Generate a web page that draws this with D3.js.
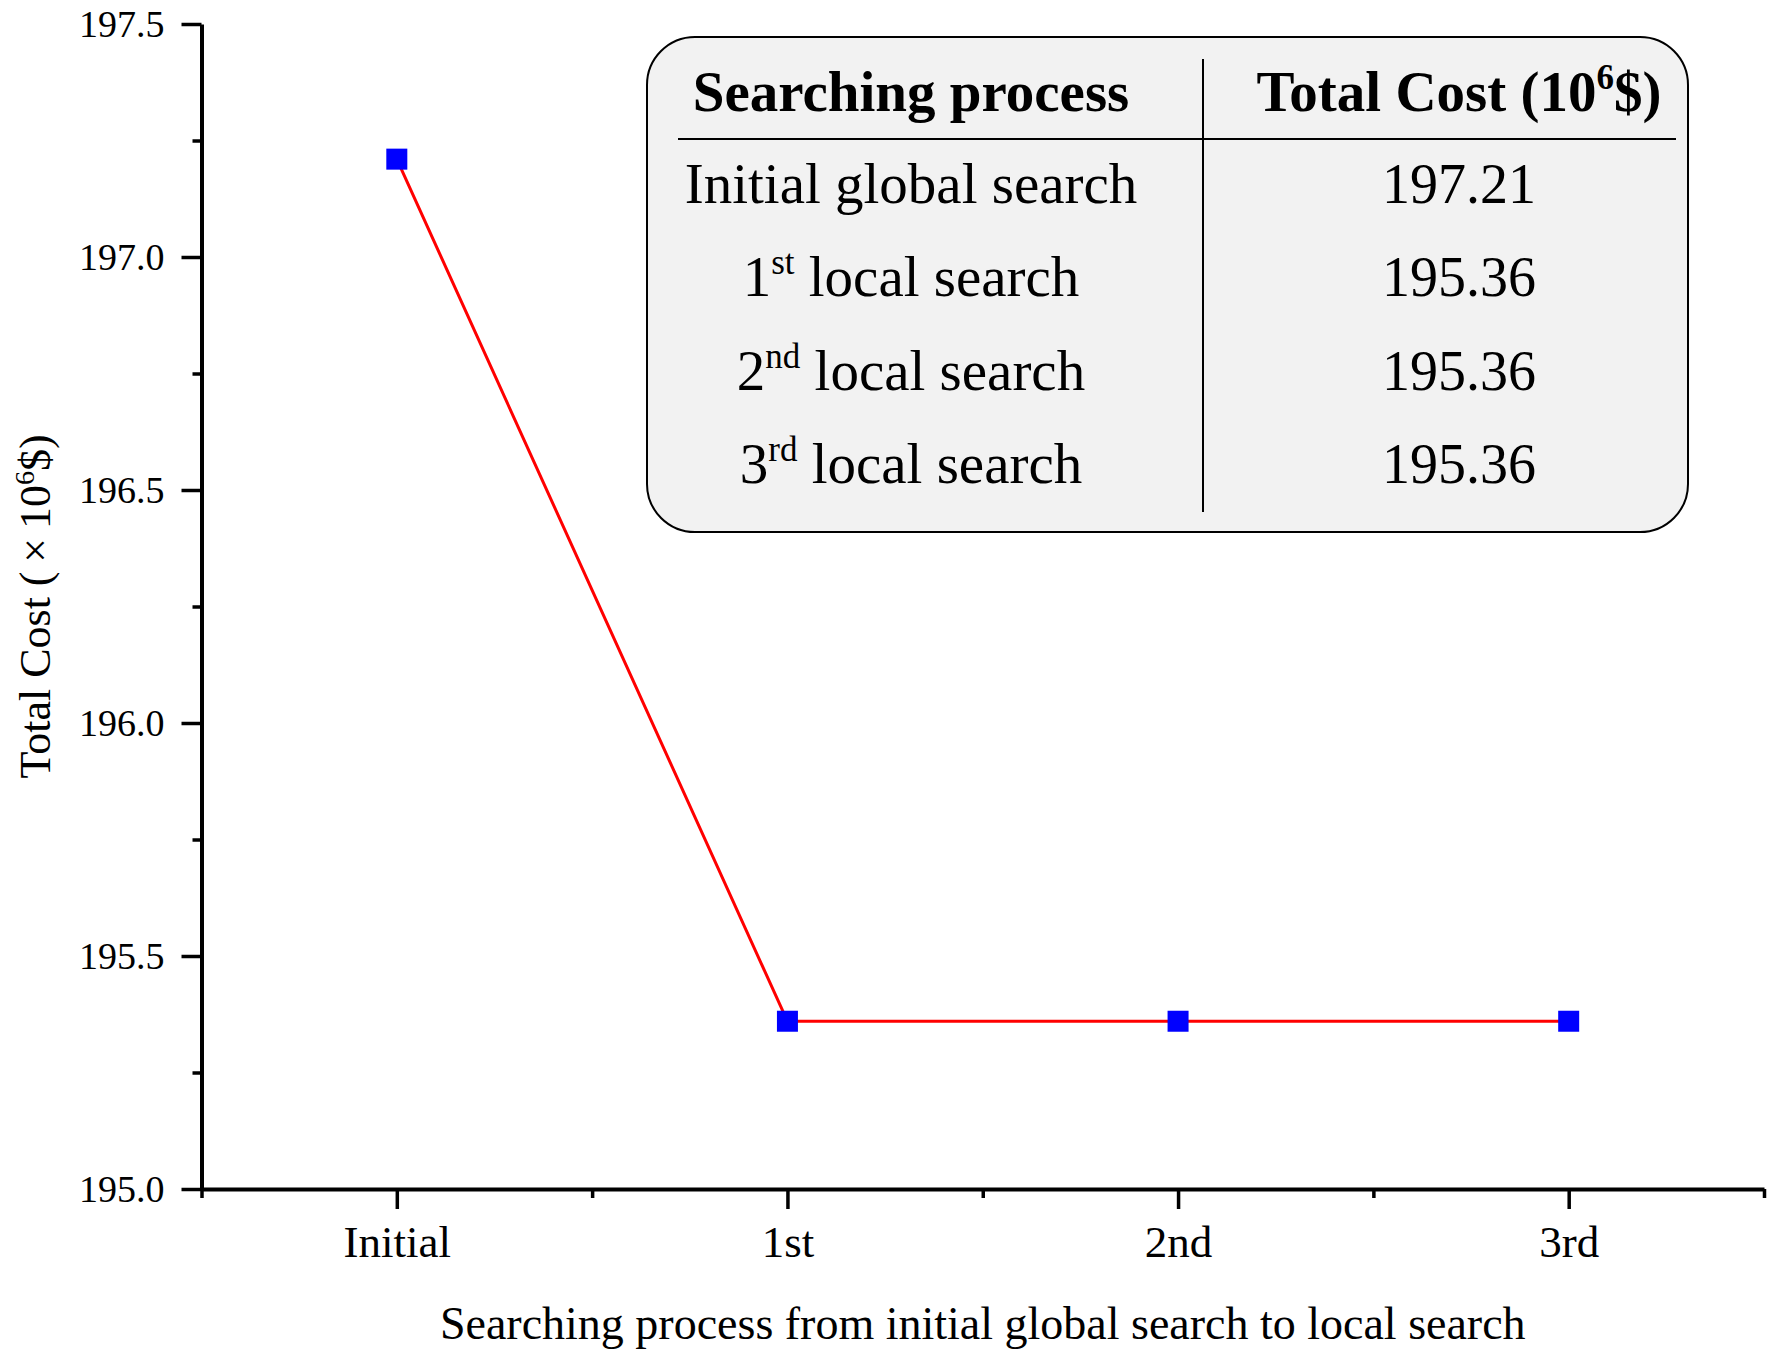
<!DOCTYPE html>
<html>
<head>
<meta charset="utf-8">
<script src="https://cdn.jsdelivr.net/npm/d3@7"></script>
<style>
  body { margin: 0; background: #fff; }
  svg text { font-family: "Liberation Serif", "Times New Roman", serif; fill: #000; }
</style>
</head>
<body>
<script>
// Total cost along the searching process (global search, then local searches)
var stages = ["Initial", "1st", "2nd", "3rd"];
var costs = [197.21, 195.36, 195.36, 195.36];
var yTicks = [195.0, 195.5, 196.0, 196.5, 197.0, 197.5];
var yMinor = [195.25, 195.75, 196.25, 196.75, 197.25];
var xMinor = [-0.5, 0.5, 1.5, 2.5, 3.5];

// table in the inset, "|" marks the superscript part
var tableHeader = ["Searching process", "Total Cost (10|6|$)"];
var tableNames = ["Initial global search", "1|st| local search", "2|nd| local search", "3|rd| local search"];

window.onload = function()
{
  var W = 1784, H = 1365;
  var svg = d3.select("body").append("svg")
      .attr("width", W)
      .attr("height", H);

  var x = d3.scaleLinear()
      .domain([-0.5, 3.5])
      .range([201.5, 1764]);

  var y = d3.scaleLinear()
      .domain([195.0, 197.5])
      .range([1189, 24]);

  // y axis, major ticks
  var yAxis = svg.append("g")
      .attr("transform", "translate(" + x(-0.5) + ",0)")
      .call(d3.axisLeft(y)
        .tickValues(yTicks)
        .tickSize(20)
        .tickSizeOuter(0)
        .tickPadding(17)
        .tickFormat(d3.format(".1f")));
  yAxis.attr("font-family", null);
  yAxis.select(".domain").attr("stroke-width", 4);
  yAxis.selectAll(".tick line").attr("stroke-width", 3.5);
  yAxis.selectAll(".tick text").style("font-size", "38px");

  // y axis, minor ticks
  var yAxisMinor = svg.append("g")
      .attr("transform", "translate(" + x(-0.5) + ",0)")
      .call(d3.axisLeft(y).tickValues(yMinor).tickSize(9).tickSizeOuter(0).tickFormat(""));
  yAxisMinor.select(".domain").remove();
  yAxisMinor.selectAll(".tick line").attr("stroke-width", 3.5);

  // x axis, major ticks
  var xAxis = svg.append("g")
      .attr("transform", "translate(0," + y(195.0) + ")")
      .call(d3.axisBottom(x)
        .tickValues([0, 1, 2, 3])
        .tickSize(20)
        .tickSizeOuter(0)
        .tickPadding(16)
        .tickFormat(function(d) { return stages[d]; }));
  xAxis.attr("font-family", null);
  xAxis.select(".domain").attr("stroke-width", 4);
  xAxis.selectAll(".tick line").attr("stroke-width", 3.5);
  xAxis.selectAll(".tick text").style("font-size", "45px");

  // x axis, minor ticks
  var xAxisMinor = svg.append("g")
      .attr("transform", "translate(0," + y(195.0) + ")")
      .call(d3.axisBottom(x).tickValues(xMinor).tickSize(9).tickSizeOuter(0).tickFormat(""));
  xAxisMinor.select(".domain").remove();
  xAxisMinor.selectAll(".tick line").attr("stroke-width", 3.5);

  // axis titles
  svg.append("text")
      .attr("x", (x(-0.5) + x(3.5)) / 2)
      .attr("y", 1339)
      .attr("text-anchor", "middle")
      .style("font-size", "46px")
      .text("Searching process from initial global search to local search");

  var yTitle = svg.append("text")
      .attr("transform", "rotate(-90)")
      .attr("x", -(y(195.0) + y(197.5)) / 2)
      .attr("y", 50)
      .attr("text-anchor", "middle")
      .style("font-size", "44px");
  yTitle.append("tspan").text("Total Cost (\u2009\u00d7\u200910");
  yTitle.append("tspan").attr("dy", -16).style("font-size", "28px").text("6");
  yTitle.append("tspan").attr("dy", 16).text("$)");

  // line and markers
  var pts = costs.map(function(c, i) { return [i, c]; });
  var line = d3.line()
      .x(function(d) { return x(d[0]); })
      .y(function(d) { return y(d[1]); });

  svg.append("path")
      .datum(pts)
      .attr("d", line)
      .attr("fill", "none")
      .attr("stroke", "#ff0000")
      .attr("stroke-width", 3);

  svg.selectAll(".dot")
      .data(pts)
    .enter().append("rect")
      .attr("class", "dot")
      .attr("x", function(d) { return x(d[0]) - 10.5; })
      .attr("y", function(d) { return y(d[1]) - 10.5; })
      .attr("width", 21)
      .attr("height", 21)
      .attr("fill", "#0000ff");

  // inset table
  var box = {left: 647, top: 37, right: 1688, bottom: 532};
  var colL = 911, colR = 1459, divX = 1203;
  var rowY = d3.scaleLinear().domain([0, 3]).range([203, 483]);

  var tbl = svg.append("g").attr("class", "table");
  tbl.append("rect")
      .attr("x", box.left)
      .attr("y", box.top)
      .attr("width", box.right - box.left)
      .attr("height", box.bottom - box.top)
      .attr("rx", 48)
      .attr("ry", 48)
      .attr("fill", "#f2f2f2")
      .attr("stroke", "#000")
      .attr("stroke-width", 2);

  tbl.append("line")
      .attr("x1", 678).attr("x2", 1676)
      .attr("y1", 139).attr("y2", 139)
      .attr("stroke", "#000").attr("stroke-width", 2);

  tbl.append("line")
      .attr("x1", divX).attr("x2", divX)
      .attr("y1", 59).attr("y2", 512)
      .attr("stroke", "#000").attr("stroke-width", 2);

  function writeCell(g, str, cx, cy, size, bold)
  {
    var parts = str.split("|");
    var t = g.append("text")
        .attr("x", cx)
        .attr("y", cy)
        .attr("text-anchor", "middle")
        .style("font-size", size + "px")
        .style("font-weight", bold ? "bold" : "normal");
    var shift = Math.round(size * 0.38);
    parts.forEach(function(p, i)
    {
      if (p === "") return;
      if (i % 2 === 1)
      {
        t.append("tspan").attr("dy", -shift).style("font-size", Math.round(size * 0.62) + "px").text(p);
      }
      else
      {
        var ts = t.append("tspan").text(p);
        if (i > 0) ts.attr("dy", shift);
      }
    });
  }

  writeCell(tbl, tableHeader[0], colL, 111, 57, true);
  writeCell(tbl, tableHeader[1], colR, 111, 57, true);

  tableNames.forEach(function(name, i)
  {
    writeCell(tbl, name, colL, rowY(i), 57, false);
    writeCell(tbl, costs[i].toFixed(2), colR, rowY(i), 56, false);
  });
};
</script>
</body>
</html>
